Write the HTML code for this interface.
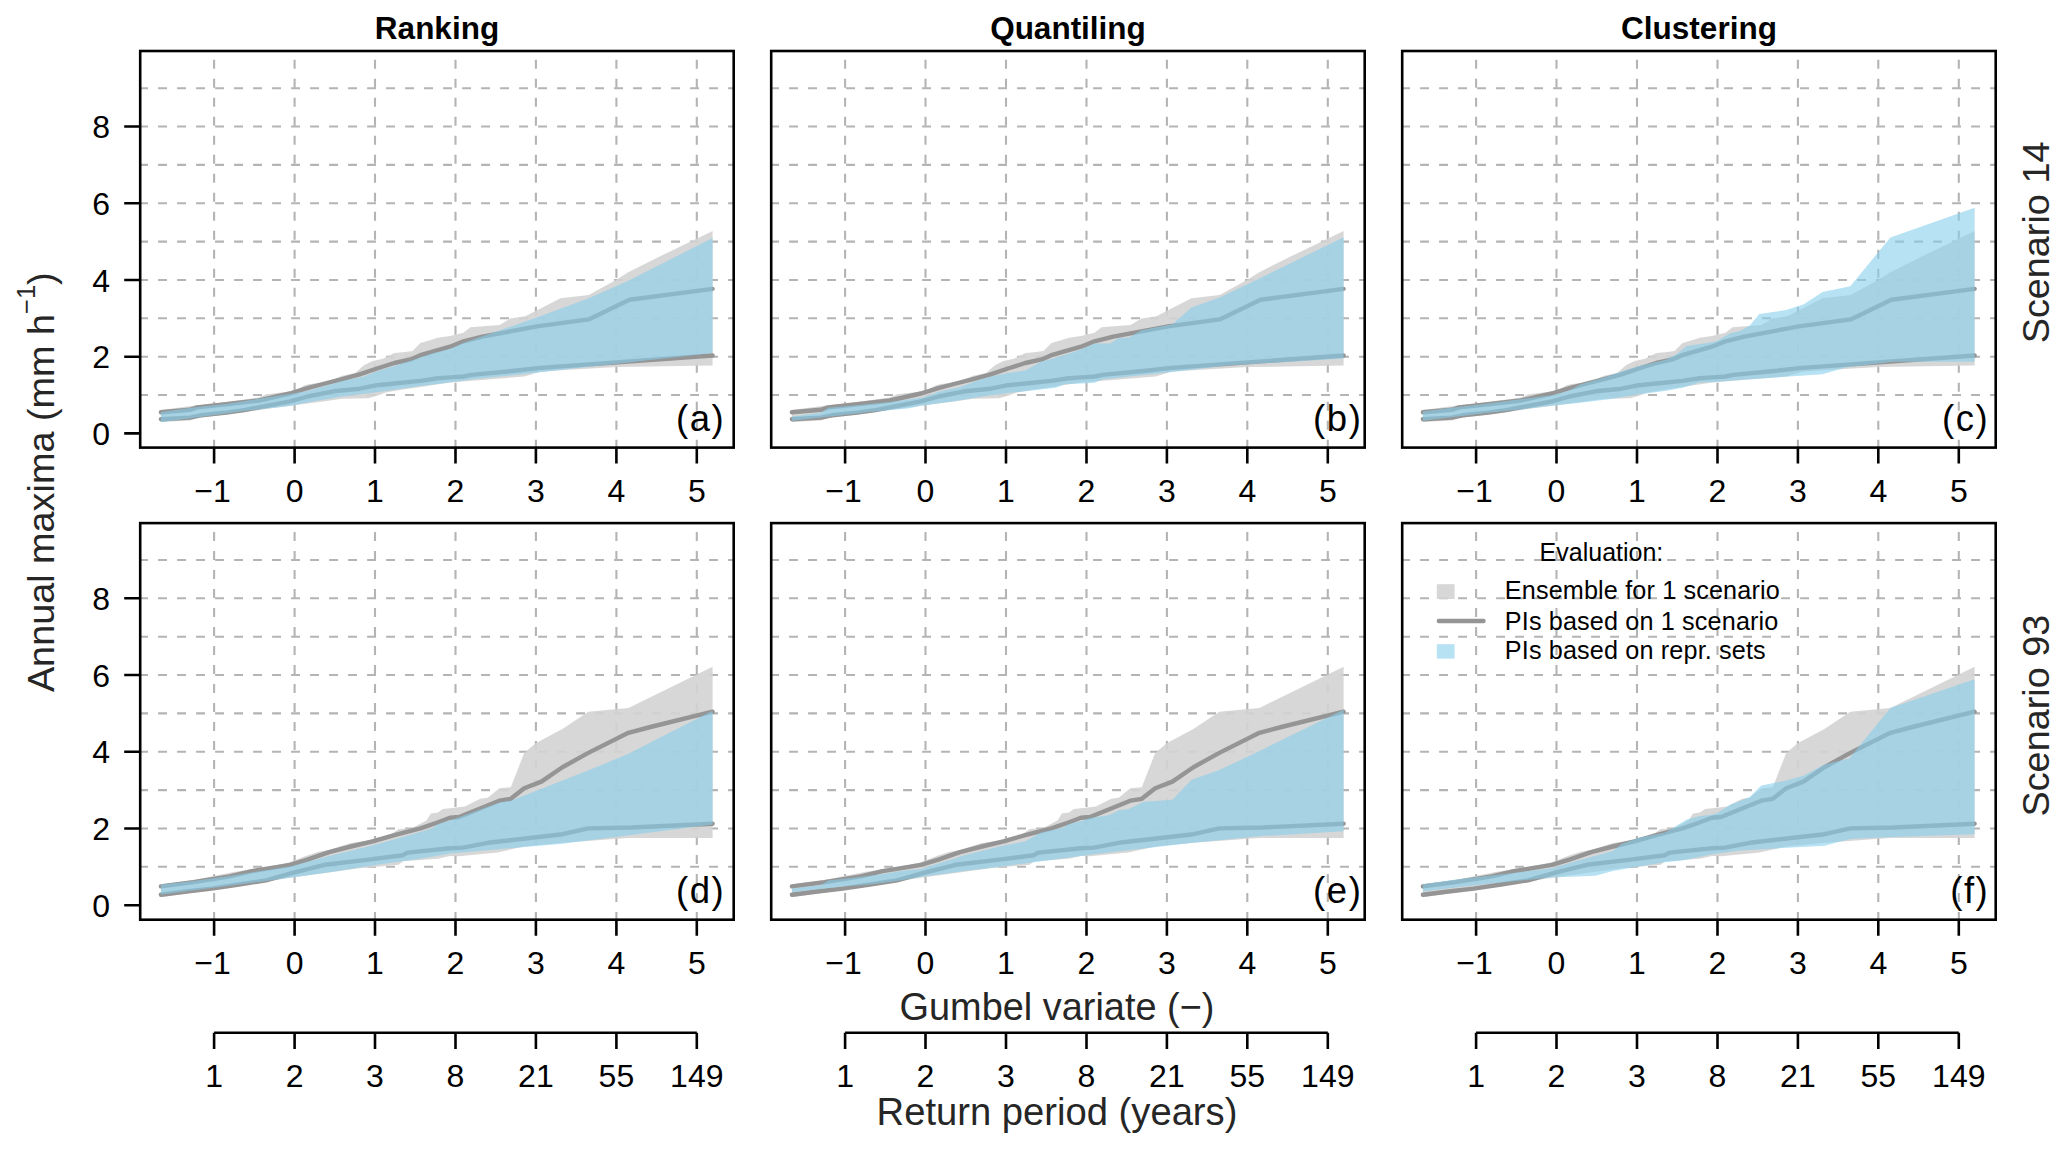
<!DOCTYPE html>
<html><head><meta charset="utf-8"><title>Figure</title>
<style>
html,body{margin:0;padding:0;background:#fff;width:2067px;height:1150px;overflow:hidden}
svg{display:block;font-family:"Liberation Sans",sans-serif}
</style></head><body>
<svg width="2067" height="1150" viewBox="0 0 2067 1150">
<rect width="2067" height="1150" fill="#fff"/>
<path d="M139.1 395H733.7M139.1 356.7H733.7M139.1 318.3H733.7M139.1 280H733.7M139.1 241.6H733.7M139.1 203.2H733.7M139.1 164.9H733.7M139.1 126.5H733.7M139.1 88.2H733.7" stroke="#b4b4b4" stroke-width="2.1" stroke-dasharray="8.9 10.1" fill="none"/>
<path d="M214.1 448.7V51M294.6 448.7V51M375 448.7V51M455.5 448.7V51M535.9 448.7V51M616.4 448.7V51M696.8 448.7V51" stroke="#b4b4b4" stroke-width="2.1" stroke-dasharray="8.9 10.1" fill="none"/>
<polygon points="160.9,409.9 197.2,405.2 226.2,401.9 258.9,397.6 266.1,394.3 287.9,391.8 298.7,388.7 304.8,385.2 310,383.9 326.5,382.2 342.2,375.7 355.2,373 363.9,365.2 372.6,360.9 383,358.7 394.3,353 403,352.2 412.6,350.9 420.4,343 430.9,340 437.8,337.8 450,336.1 463.5,332.7 470.5,327.2 499.5,324.9 510.4,318.6 525.3,316.2 560.5,298.2 588.7,295.1 616.8,279.5 627.8,272.4 666.9,252.9 712.6,231 712.6,365.5 616.8,367.1 565.2,369.9 540.2,371.8 524.5,376.5 450,382.6 420.4,387 403,389.6 385.7,392.6 377,395.7 368.3,398.3 342.2,398.7 324.8,401.3 290,405.7 226.2,414.6 197.2,417.9 189.9,420.4 160.9,421.9" fill="#d3d3d3" fill-opacity="0.9"/>
<polyline points="160.9,412.3 189.9,409.8 197.2,407.4 226.2,404.3 258.9,400.5 290,393.5 307.4,388.2 324.8,383.5 342.2,379.1 359.6,374.3 377,368.5 394.3,363 411.7,359.1 420.4,355.2 433.5,351.3 450,346.7 463.5,341.3 482.3,336.6 537,326.4 588.7,319.4 629.4,299.8 712.6,288.9" fill="none" stroke="#959595" stroke-width="4.4" stroke-linejoin="round" stroke-linecap="round"/>
<polyline points="160.9,419.2 189.9,417.6 200.8,415.3 226.2,412.6 244.3,410.1 290,401.3 307.4,396.5 333.5,391.3 359.6,388.7 377,385.2 394.3,383.5 420.4,380.9 437.8,378.3 450,377.4 463.5,376.5 471.3,374.9 512,371 540.2,367.9 712.6,355.5" fill="none" stroke="#959595" stroke-width="4.4" stroke-linejoin="round" stroke-linecap="round"/>
<polygon points="160.9,412 197.2,407 226.2,404 290,393.9 307.4,390.9 342.2,380.9 363.9,376.5 377,371.3 394.3,366.1 420.4,357.4 433.5,353 450,349.1 463.5,342.8 533.9,318.6 588.7,298.2 627.8,281 712.6,238 712.6,353 565.2,369.5 471.3,379.6 450,382.6 420.4,386.1 377,392.2 342.2,396.5 307.4,402.6 290,406.1 244.3,411 226.2,413.5 160.9,422.2" fill="#87ceeb" fill-opacity="0.6"/>
<rect x="140.2" y="51" width="593.5" height="396.6" fill="none" stroke="#000" stroke-width="2.6"/>
<text x="110" y="445" text-anchor="end" font-size="32">0</text>
<text x="110" y="368.3" text-anchor="end" font-size="32">2</text>
<text x="110" y="291.6" text-anchor="end" font-size="32">4</text>
<text x="110" y="214.8" text-anchor="end" font-size="32">6</text>
<text x="110" y="138.1" text-anchor="end" font-size="32">8</text>
<text x="212.6" y="501.8" text-anchor="middle" font-size="32">−1</text>
<text x="294.6" y="501.8" text-anchor="middle" font-size="32">0</text>
<text x="375" y="501.8" text-anchor="middle" font-size="32">1</text>
<text x="455.5" y="501.8" text-anchor="middle" font-size="32">2</text>
<text x="535.9" y="501.8" text-anchor="middle" font-size="32">3</text>
<text x="616.4" y="501.8" text-anchor="middle" font-size="32">4</text>
<text x="696.8" y="501.8" text-anchor="middle" font-size="32">5</text>
<path d="M124.2 433.4H140.2M124.2 356.7H140.2M124.2 280H140.2M124.2 203.2H140.2M124.2 126.5H140.2M214.1 447.6V463.6M294.6 447.6V463.6M375 447.6V463.6M455.5 447.6V463.6M535.9 447.6V463.6M616.4 447.6V463.6M696.8 447.6V463.6" stroke="#000" stroke-width="2.6" fill="none"/>
<text x="725.3" y="430.5" text-anchor="end" font-size="36.5" letter-spacing="1.6">(a)</text>
<text x="437" y="39.3" text-anchor="middle" font-size="31.5" font-weight="bold">Ranking</text>
<path d="M770.1 395H1364.7M770.1 356.7H1364.7M770.1 318.3H1364.7M770.1 280H1364.7M770.1 241.6H1364.7M770.1 203.2H1364.7M770.1 164.9H1364.7M770.1 126.5H1364.7M770.1 88.2H1364.7" stroke="#b4b4b4" stroke-width="2.1" stroke-dasharray="8.9 10.1" fill="none"/>
<path d="M845.1 448.7V51M925.5 448.7V51M1006 448.7V51M1086.5 448.7V51M1166.9 448.7V51M1247.3 448.7V51M1327.8 448.7V51" stroke="#b4b4b4" stroke-width="2.1" stroke-dasharray="8.9 10.1" fill="none"/>
<polygon points="791.9,409.9 828.2,405.2 857.2,401.9 889.9,397.6 897.1,394.3 918.9,391.8 929.7,388.7 935.8,385.2 941,383.9 957.5,382.2 973.2,375.7 986.2,373 994.9,365.2 1003.6,360.9 1014,358.7 1025.3,353 1034,352.2 1043.6,350.9 1051.4,343 1061.9,340 1068.8,337.8 1081,336.1 1094.5,332.7 1101.5,327.2 1130.5,324.9 1141.4,318.6 1156.3,316.2 1191.5,298.2 1219.7,295.1 1247.8,279.5 1258.8,272.4 1297.9,252.9 1343.6,231 1343.6,365.5 1247.8,367.1 1196.2,369.9 1171.2,371.8 1155.5,376.5 1081,382.6 1051.4,387 1034,389.6 1016.7,392.6 1008,395.7 999.3,398.3 973.2,398.7 955.8,401.3 921,405.7 857.2,414.6 828.2,417.9 820.9,420.4 791.9,421.9" fill="#d3d3d3" fill-opacity="0.9"/>
<polyline points="791.9,412.3 820.9,409.8 828.2,407.4 857.2,404.3 889.9,400.5 921,393.5 938.4,388.2 955.8,383.5 973.2,379.1 990.6,374.3 1008,368.5 1025.3,363 1042.7,359.1 1051.4,355.2 1064.5,351.3 1081,346.7 1094.5,341.3 1113.3,336.6 1168,326.4 1219.7,319.4 1260.4,299.8 1343.6,288.9" fill="none" stroke="#959595" stroke-width="4.4" stroke-linejoin="round" stroke-linecap="round"/>
<polyline points="791.9,419.2 820.9,417.6 831.8,415.3 857.2,412.6 875.3,410.1 921,401.3 938.4,396.5 964.5,391.3 990.6,388.7 1008,385.2 1025.3,383.5 1051.4,380.9 1068.8,378.3 1081,377.4 1094.5,376.5 1102.3,374.9 1143,371 1171.2,367.9 1343.6,355.5" fill="none" stroke="#959595" stroke-width="4.4" stroke-linejoin="round" stroke-linecap="round"/>
<polygon points="791.9,416.4 820.9,412.8 828.2,407.7 853.6,405.6 889.9,401.9 922.5,397.5 940.1,391.3 960.1,387 981.9,379.1 994.9,375.7 1008,373 1025.3,370.4 1041,361.7 1060.1,356.5 1081,349.6 1094.5,343.6 1110.1,343.6 1118,338.2 1128.9,337.4 1141.4,330.3 1172.7,324.1 1191.5,307.6 1219.7,297.5 1258.8,278.7 1343.6,237.2 1343.6,358.5 1227.5,365.5 1180.5,371 1102.3,379.6 1094.5,382.8 1081,383.5 1064.5,384.3 1055.8,387.8 1025.3,391.3 1008,393 981.9,396.5 955.8,400.9 921,405.7 908,408.5 868.1,412.1 857.2,413.5 791.9,420.8" fill="#87ceeb" fill-opacity="0.6"/>
<rect x="771.2" y="51" width="593.5" height="396.6" fill="none" stroke="#000" stroke-width="2.6"/>
<text x="843.6" y="501.8" text-anchor="middle" font-size="32">−1</text>
<text x="925.5" y="501.8" text-anchor="middle" font-size="32">0</text>
<text x="1006" y="501.8" text-anchor="middle" font-size="32">1</text>
<text x="1086.5" y="501.8" text-anchor="middle" font-size="32">2</text>
<text x="1166.9" y="501.8" text-anchor="middle" font-size="32">3</text>
<text x="1247.3" y="501.8" text-anchor="middle" font-size="32">4</text>
<text x="1327.8" y="501.8" text-anchor="middle" font-size="32">5</text>
<path d="M845.1 447.6V463.6M925.5 447.6V463.6M1006 447.6V463.6M1086.5 447.6V463.6M1166.9 447.6V463.6M1247.3 447.6V463.6M1327.8 447.6V463.6" stroke="#000" stroke-width="2.6" fill="none"/>
<text x="1362.5" y="430.5" text-anchor="end" font-size="36.5" letter-spacing="1.6">(b)</text>
<text x="1068" y="39.3" text-anchor="middle" font-size="31.5" font-weight="bold">Quantiling</text>
<path d="M1401.1 395H1995.7M1401.1 356.7H1995.7M1401.1 318.3H1995.7M1401.1 280H1995.7M1401.1 241.6H1995.7M1401.1 203.2H1995.7M1401.1 164.9H1995.7M1401.1 126.5H1995.7M1401.1 88.2H1995.7" stroke="#b4b4b4" stroke-width="2.1" stroke-dasharray="8.9 10.1" fill="none"/>
<path d="M1476.1 448.7V51M1556.5 448.7V51M1637 448.7V51M1717.5 448.7V51M1797.9 448.7V51M1878.3 448.7V51M1958.8 448.7V51" stroke="#b4b4b4" stroke-width="2.1" stroke-dasharray="8.9 10.1" fill="none"/>
<polygon points="1422.9,409.9 1459.2,405.2 1488.2,401.9 1520.9,397.6 1528.1,394.3 1549.9,391.8 1560.7,388.7 1566.8,385.2 1572,383.9 1588.5,382.2 1604.2,375.7 1617.2,373 1625.9,365.2 1634.6,360.9 1645,358.7 1656.3,353 1665,352.2 1674.6,350.9 1682.4,343 1692.9,340 1699.8,337.8 1712,336.1 1725.5,332.7 1732.5,327.2 1761.5,324.9 1772.4,318.6 1787.3,316.2 1822.5,298.2 1850.7,295.1 1878.8,279.5 1889.8,272.4 1928.9,252.9 1974.6,231 1974.6,365.5 1878.8,367.1 1827.2,369.9 1802.2,371.8 1786.5,376.5 1712,382.6 1682.4,387 1665,389.6 1647.7,392.6 1639,395.7 1630.3,398.3 1604.2,398.7 1586.8,401.3 1552,405.7 1488.2,414.6 1459.2,417.9 1451.9,420.4 1422.9,421.9" fill="#d3d3d3" fill-opacity="0.9"/>
<polyline points="1422.9,412.3 1451.9,409.8 1459.2,407.4 1488.2,404.3 1520.9,400.5 1552,393.5 1569.4,388.2 1586.8,383.5 1604.2,379.1 1621.6,374.3 1639,368.5 1656.3,363 1673.7,359.1 1682.4,355.2 1695.5,351.3 1712,346.7 1725.5,341.3 1744.3,336.6 1799,326.4 1850.7,319.4 1891.4,299.8 1974.6,288.9" fill="none" stroke="#959595" stroke-width="4.4" stroke-linejoin="round" stroke-linecap="round"/>
<polyline points="1422.9,419.2 1451.9,417.6 1462.8,415.3 1488.2,412.6 1506.3,410.1 1552,401.3 1569.4,396.5 1595.5,391.3 1621.6,388.7 1639,385.2 1656.3,383.5 1682.4,380.9 1699.8,378.3 1712,377.4 1725.5,376.5 1733.3,374.9 1774,371 1802.2,367.9 1974.6,355.5" fill="none" stroke="#959595" stroke-width="4.4" stroke-linejoin="round" stroke-linecap="round"/>
<polygon points="1422.9,411.4 1451.9,407.7 1488.2,403.4 1528.1,398.3 1552,395.2 1569.4,390.5 1580.7,384.3 1604.2,377.6 1621.6,371.5 1639,366.1 1665,360 1675.5,354.8 1686.8,346.1 1712,342.2 1717.3,340.7 1730.7,333 1740.3,331.1 1749.8,325.4 1759.4,313.9 1786.2,310.1 1803.4,304.4 1822.5,291.9 1850.3,286.2 1890.4,237.4 1974.6,207.7 1974.6,361.7 1893.3,361.7 1845.5,367.5 1822.5,374.2 1740.3,379.9 1712,382.2 1699.8,382.6 1682.4,387.8 1665,390.9 1639,394.3 1612.9,398.7 1578.1,403 1552,405.7 1520.9,409.5 1488.2,412.8 1422.9,420.8" fill="#87ceeb" fill-opacity="0.6"/>
<rect x="1402.2" y="51" width="593.5" height="396.6" fill="none" stroke="#000" stroke-width="2.6"/>
<text x="1474.6" y="501.8" text-anchor="middle" font-size="32">−1</text>
<text x="1556.5" y="501.8" text-anchor="middle" font-size="32">0</text>
<text x="1637" y="501.8" text-anchor="middle" font-size="32">1</text>
<text x="1717.5" y="501.8" text-anchor="middle" font-size="32">2</text>
<text x="1797.9" y="501.8" text-anchor="middle" font-size="32">3</text>
<text x="1878.3" y="501.8" text-anchor="middle" font-size="32">4</text>
<text x="1958.8" y="501.8" text-anchor="middle" font-size="32">5</text>
<path d="M1476.1 447.6V463.6M1556.5 447.6V463.6M1637 447.6V463.6M1717.5 447.6V463.6M1797.9 447.6V463.6M1878.3 447.6V463.6M1958.8 447.6V463.6" stroke="#000" stroke-width="2.6" fill="none"/>
<text x="1989.4" y="430.5" text-anchor="end" font-size="36.5" letter-spacing="1.6">(c)</text>
<text x="1699" y="39.3" text-anchor="middle" font-size="31.5" font-weight="bold">Clustering</text>
<path d="M139.1 866.8H733.7M139.1 828.5H733.7M139.1 790.1H733.7M139.1 751.8H733.7M139.1 713.4H733.7M139.1 675H733.7M139.1 636.7H733.7M139.1 598.3H733.7M139.1 560H733.7" stroke="#b4b4b4" stroke-width="2.1" stroke-dasharray="8.9 10.1" fill="none"/>
<path d="M214.1 920.9V523.1M294.6 920.9V523.1M375 920.9V523.1M455.5 920.9V523.1M535.9 920.9V523.1M616.4 920.9V523.1M696.8 920.9V523.1" stroke="#b4b4b4" stroke-width="2.1" stroke-dasharray="8.9 10.1" fill="none"/>
<polygon points="160.9,884.3 193.5,880 233.5,871.9 273.4,866.1 290,862.2 305.7,856.1 318.7,851.7 329.1,850 350.9,843 368.3,840.4 377,837.8 390,835.2 398.7,829.1 411.7,828.3 426.5,820.4 430.9,813.5 437.8,812.6 443,809.1 450,808.3 464.9,806.4 480.2,798.8 487.8,797.8 499.3,788.3 510.8,787.3 524.2,752.9 535.7,743.3 562.4,729 588.3,711.7 628.4,707.9 712.6,666.8 712.6,838 628.4,838 562.4,842.8 524.2,846.6 497.4,852.4 459.1,856.2 450,856.1 437.8,858.7 403,861.3 398.7,864.8 359.6,868.3 290,877.8 211.7,890.1 160.9,897.3" fill="#d3d3d3" fill-opacity="0.9"/>
<polyline points="160.9,886.4 193.5,882.1 229.8,876.3 251.6,871.2 273.4,867.6 290,864.8 307.4,859.6 329.1,852.2 350.9,846.5 372.6,841.3 394.3,835.2 420.4,828.3 436.1,823 450,817.8 459.1,817 499.3,800.7 510.8,798.8 524.2,788.3 541.4,781.6 562.4,767.2 588.3,752.9 628.4,732.8 650.4,727 712.6,711.7" fill="none" stroke="#959595" stroke-width="4.4" stroke-linejoin="round" stroke-linecap="round"/>
<polyline points="160.9,894.8 186.3,891.5 211.7,888.6 240.7,884.3 266.1,880.3 294.4,872.3 324.8,864.8 368.3,859.6 403,855.2 407.4,852.6 450,848.3 463,847.6 487.8,842.8 562.4,834.2 588.3,828.4 631.3,827.5 712.6,823.7" fill="none" stroke="#959595" stroke-width="4.4" stroke-linejoin="round" stroke-linecap="round"/>
<polygon points="160.9,884.6 193.5,881 229.8,875.9 290,866.5 329.1,856.1 368.3,846.5 403,837 432.6,828.3 437.8,823.9 450,820.4 499.3,802.6 510.8,800.7 535.7,791.1 589.2,770.1 628.4,753.8 712.6,710.8 712.6,824.6 631.3,835.1 562.4,843.7 450,853.5 420.4,858.7 377,864.8 333.5,871.7 290,877.8 262.5,881.4 160.9,894.4" fill="#87ceeb" fill-opacity="0.6"/>
<rect x="140.2" y="523.1" width="593.5" height="396.6" fill="none" stroke="#000" stroke-width="2.6"/>
<text x="110" y="916.8" text-anchor="end" font-size="32">0</text>
<text x="110" y="840.1" text-anchor="end" font-size="32">2</text>
<text x="110" y="763.4" text-anchor="end" font-size="32">4</text>
<text x="110" y="686.6" text-anchor="end" font-size="32">6</text>
<text x="110" y="609.9" text-anchor="end" font-size="32">8</text>
<text x="212.6" y="973.6" text-anchor="middle" font-size="32">−1</text>
<text x="294.6" y="973.6" text-anchor="middle" font-size="32">0</text>
<text x="375" y="973.6" text-anchor="middle" font-size="32">1</text>
<text x="455.5" y="973.6" text-anchor="middle" font-size="32">2</text>
<text x="535.9" y="973.6" text-anchor="middle" font-size="32">3</text>
<text x="616.4" y="973.6" text-anchor="middle" font-size="32">4</text>
<text x="696.8" y="973.6" text-anchor="middle" font-size="32">5</text>
<path d="M124.2 905.2H140.2M124.2 828.5H140.2M124.2 751.8H140.2M124.2 675H140.2M124.2 598.3H140.2M214.1 919.8V935.8M294.6 919.8V935.8M375 919.8V935.8M455.5 919.8V935.8M535.9 919.8V935.8M616.4 919.8V935.8M696.8 919.8V935.8" stroke="#000" stroke-width="2.6" fill="none"/>
<text x="725.3" y="903" text-anchor="end" font-size="36.5" letter-spacing="1.6">(d)</text>
<path d="M770.1 866.8H1364.7M770.1 828.5H1364.7M770.1 790.1H1364.7M770.1 751.8H1364.7M770.1 713.4H1364.7M770.1 675H1364.7M770.1 636.7H1364.7M770.1 598.3H1364.7M770.1 560H1364.7" stroke="#b4b4b4" stroke-width="2.1" stroke-dasharray="8.9 10.1" fill="none"/>
<path d="M845.1 920.9V523.1M925.5 920.9V523.1M1006 920.9V523.1M1086.5 920.9V523.1M1166.9 920.9V523.1M1247.3 920.9V523.1M1327.8 920.9V523.1" stroke="#b4b4b4" stroke-width="2.1" stroke-dasharray="8.9 10.1" fill="none"/>
<polygon points="791.9,884.3 824.5,880 864.5,871.9 904.4,866.1 921,862.2 936.7,856.1 949.7,851.7 960.1,850 981.9,843 999.3,840.4 1008,837.8 1021,835.2 1029.7,829.1 1042.7,828.3 1057.5,820.4 1061.9,813.5 1068.8,812.6 1074,809.1 1081,808.3 1095.9,806.4 1111.2,798.8 1118.8,797.8 1130.3,788.3 1141.8,787.3 1155.2,752.9 1166.7,743.3 1193.4,729 1219.3,711.7 1259.4,707.9 1343.6,666.8 1343.6,838 1259.4,838 1193.4,842.8 1155.2,846.6 1128.4,852.4 1090.1,856.2 1081,856.1 1068.8,858.7 1034,861.3 1029.7,864.8 990.6,868.3 921,877.8 842.7,890.1 791.9,897.3" fill="#d3d3d3" fill-opacity="0.9"/>
<polyline points="791.9,886.4 824.5,882.1 860.8,876.3 882.6,871.2 904.4,867.6 921,864.8 938.4,859.6 960.1,852.2 981.9,846.5 1003.6,841.3 1025.3,835.2 1051.4,828.3 1067.1,823 1081,817.8 1090.1,817 1130.3,800.7 1141.8,798.8 1155.2,788.3 1172.4,781.6 1193.4,767.2 1219.3,752.9 1259.4,732.8 1281.4,727 1343.6,711.7" fill="none" stroke="#959595" stroke-width="4.4" stroke-linejoin="round" stroke-linecap="round"/>
<polyline points="791.9,894.8 817.3,891.5 842.7,888.6 871.7,884.3 897.1,880.3 925.4,872.3 955.8,864.8 999.3,859.6 1034,855.2 1038.4,852.6 1081,848.3 1094,847.6 1118.8,842.8 1193.4,834.2 1219.3,828.4 1262.3,827.5 1343.6,823.7" fill="none" stroke="#959595" stroke-width="4.4" stroke-linejoin="round" stroke-linecap="round"/>
<polygon points="791.9,888.6 820.9,885 828.2,880.6 853.6,877.7 882.6,874.1 904.4,870.5 921,869.1 934,864.8 951.4,859.6 964.5,855.2 999.3,846.5 1025.3,841.3 1041,832.6 1063.6,827.4 1068.8,823.9 1081,821.3 1090.1,817.9 1109.3,815 1118.8,810.3 1128.4,809.3 1143.7,801.7 1172.4,799.7 1191.5,779.7 1219.3,770.1 1259.4,751 1343.6,709.8 1343.6,831.3 1262.3,836.1 1193.4,842.8 1094,854.3 1081,856.1 1060.1,858.7 1034,862.2 1008,865.7 964.5,870.9 921,877 897.1,881 871.7,884.3 842.7,886.4 791.9,892.2" fill="#87ceeb" fill-opacity="0.6"/>
<rect x="771.2" y="523.1" width="593.5" height="396.6" fill="none" stroke="#000" stroke-width="2.6"/>
<text x="843.6" y="973.6" text-anchor="middle" font-size="32">−1</text>
<text x="925.5" y="973.6" text-anchor="middle" font-size="32">0</text>
<text x="1006" y="973.6" text-anchor="middle" font-size="32">1</text>
<text x="1086.5" y="973.6" text-anchor="middle" font-size="32">2</text>
<text x="1166.9" y="973.6" text-anchor="middle" font-size="32">3</text>
<text x="1247.3" y="973.6" text-anchor="middle" font-size="32">4</text>
<text x="1327.8" y="973.6" text-anchor="middle" font-size="32">5</text>
<path d="M845.1 919.8V935.8M925.5 919.8V935.8M1006 919.8V935.8M1086.5 919.8V935.8M1166.9 919.8V935.8M1247.3 919.8V935.8M1327.8 919.8V935.8" stroke="#000" stroke-width="2.6" fill="none"/>
<text x="1362.5" y="903" text-anchor="end" font-size="36.5" letter-spacing="1.6">(e)</text>
<path d="M1401.1 866.8H1995.7M1401.1 828.5H1995.7M1401.1 790.1H1995.7M1401.1 751.8H1995.7M1401.1 713.4H1995.7M1401.1 675H1995.7M1401.1 636.7H1995.7M1401.1 598.3H1995.7M1401.1 560H1995.7" stroke="#b4b4b4" stroke-width="2.1" stroke-dasharray="8.9 10.1" fill="none"/>
<path d="M1476.1 920.9V523.1M1556.5 920.9V523.1M1637 920.9V523.1M1717.5 920.9V523.1M1797.9 920.9V523.1M1878.3 920.9V523.1M1958.8 920.9V523.1" stroke="#b4b4b4" stroke-width="2.1" stroke-dasharray="8.9 10.1" fill="none"/>
<polygon points="1422.9,884.3 1455.5,880 1495.5,871.9 1535.4,866.1 1552,862.2 1567.7,856.1 1580.7,851.7 1591.1,850 1612.9,843 1630.3,840.4 1639,837.8 1652,835.2 1660.7,829.1 1673.7,828.3 1688.5,820.4 1692.9,813.5 1699.8,812.6 1705,809.1 1712,808.3 1726.9,806.4 1742.2,798.8 1749.8,797.8 1761.3,788.3 1772.8,787.3 1786.2,752.9 1797.7,743.3 1824.4,729 1850.3,711.7 1890.4,707.9 1974.6,666.8 1974.6,838 1890.4,838 1824.4,842.8 1786.2,846.6 1759.4,852.4 1721.1,856.2 1712,856.1 1699.8,858.7 1665,861.3 1660.7,864.8 1621.6,868.3 1552,877.8 1473.7,890.1 1422.9,897.3" fill="#d3d3d3" fill-opacity="0.9"/>
<polyline points="1422.9,886.4 1455.5,882.1 1491.8,876.3 1513.6,871.2 1535.4,867.6 1552,864.8 1569.4,859.6 1591.1,852.2 1612.9,846.5 1634.6,841.3 1656.3,835.2 1682.4,828.3 1698.1,823 1712,817.8 1721.1,817 1761.3,800.7 1772.8,798.8 1786.2,788.3 1803.4,781.6 1824.4,767.2 1850.3,752.9 1890.4,732.8 1912.4,727 1974.6,711.7" fill="none" stroke="#959595" stroke-width="4.4" stroke-linejoin="round" stroke-linecap="round"/>
<polyline points="1422.9,894.8 1448.3,891.5 1473.7,888.6 1502.7,884.3 1528.1,880.3 1556.4,872.3 1586.8,864.8 1630.3,859.6 1665,855.2 1669.4,852.6 1712,848.3 1725,847.6 1749.8,842.8 1824.4,834.2 1850.3,828.4 1893.3,827.5 1974.6,823.7" fill="none" stroke="#959595" stroke-width="4.4" stroke-linejoin="round" stroke-linecap="round"/>
<polygon points="1422.9,884.3 1455.5,879.5 1491.8,875.6 1520.9,871.9 1552,868.3 1578.1,860.4 1612.9,850.9 1621.6,843.9 1639,837.8 1665,832.6 1673.7,827.4 1686.8,819.6 1699.8,816.1 1712,814.8 1717.3,813.1 1730.7,804.5 1749.8,796.9 1761.3,785.4 1786.2,780.6 1803.4,775.8 1824.4,764.4 1849.3,758.6 1860.8,744.3 1890.4,707.9 1974.6,679.2 1974.6,834.2 1893.3,837.1 1850.3,839 1824.4,845.7 1740.3,850.4 1712,854.3 1682.4,860.4 1665,862.2 1639,866.5 1612.9,870.9 1595.5,875.7 1552,877.4 1520.9,880.6 1491.8,883.5 1462.8,886.8 1422.9,891.5" fill="#87ceeb" fill-opacity="0.6"/>
<rect x="1402.2" y="523.1" width="593.5" height="396.6" fill="none" stroke="#000" stroke-width="2.6"/>
<text x="1474.6" y="973.6" text-anchor="middle" font-size="32">−1</text>
<text x="1556.5" y="973.6" text-anchor="middle" font-size="32">0</text>
<text x="1637" y="973.6" text-anchor="middle" font-size="32">1</text>
<text x="1717.5" y="973.6" text-anchor="middle" font-size="32">2</text>
<text x="1797.9" y="973.6" text-anchor="middle" font-size="32">3</text>
<text x="1878.3" y="973.6" text-anchor="middle" font-size="32">4</text>
<text x="1958.8" y="973.6" text-anchor="middle" font-size="32">5</text>
<path d="M1476.1 919.8V935.8M1556.5 919.8V935.8M1637 919.8V935.8M1717.5 919.8V935.8M1797.9 919.8V935.8M1878.3 919.8V935.8M1958.8 919.8V935.8" stroke="#000" stroke-width="2.6" fill="none"/>
<text x="1989.4" y="903" text-anchor="end" font-size="36.5" letter-spacing="1.6">(f)</text>
<path d="M214.1 1032.8H696.8M214.1 1032.8V1049M294.6 1032.8V1049M375 1032.8V1049M455.5 1032.8V1049M535.9 1032.8V1049M616.4 1032.8V1049M696.8 1032.8V1049" stroke="#000" stroke-width="2.6" fill="none"/>
<text x="214.1" y="1087" text-anchor="middle" font-size="32">1</text>
<text x="294.6" y="1087" text-anchor="middle" font-size="32">2</text>
<text x="375" y="1087" text-anchor="middle" font-size="32">3</text>
<text x="455.5" y="1087" text-anchor="middle" font-size="32">8</text>
<text x="535.9" y="1087" text-anchor="middle" font-size="32">21</text>
<text x="616.4" y="1087" text-anchor="middle" font-size="32">55</text>
<text x="696.8" y="1087" text-anchor="middle" font-size="32">149</text>
<path d="M845.1 1032.8H1327.8M845.1 1032.8V1049M925.5 1032.8V1049M1006 1032.8V1049M1086.5 1032.8V1049M1166.9 1032.8V1049M1247.3 1032.8V1049M1327.8 1032.8V1049" stroke="#000" stroke-width="2.6" fill="none"/>
<text x="845.1" y="1087" text-anchor="middle" font-size="32">1</text>
<text x="925.5" y="1087" text-anchor="middle" font-size="32">2</text>
<text x="1006" y="1087" text-anchor="middle" font-size="32">3</text>
<text x="1086.5" y="1087" text-anchor="middle" font-size="32">8</text>
<text x="1166.9" y="1087" text-anchor="middle" font-size="32">21</text>
<text x="1247.3" y="1087" text-anchor="middle" font-size="32">55</text>
<text x="1327.8" y="1087" text-anchor="middle" font-size="32">149</text>
<path d="M1476.1 1032.8H1958.8M1476.1 1032.8V1049M1556.5 1032.8V1049M1637 1032.8V1049M1717.5 1032.8V1049M1797.9 1032.8V1049M1878.3 1032.8V1049M1958.8 1032.8V1049" stroke="#000" stroke-width="2.6" fill="none"/>
<text x="1476.1" y="1087" text-anchor="middle" font-size="32">1</text>
<text x="1556.5" y="1087" text-anchor="middle" font-size="32">2</text>
<text x="1637" y="1087" text-anchor="middle" font-size="32">3</text>
<text x="1717.5" y="1087" text-anchor="middle" font-size="32">8</text>
<text x="1797.9" y="1087" text-anchor="middle" font-size="32">21</text>
<text x="1878.3" y="1087" text-anchor="middle" font-size="32">55</text>
<text x="1958.8" y="1087" text-anchor="middle" font-size="32">149</text>
<text x="1057" y="1019.7" text-anchor="middle" font-size="37.9" fill="#262626">Gumbel variate (−)</text>
<text x="1057" y="1124.5" text-anchor="middle" font-size="38.2" fill="#262626">Return period (years)</text>
<text transform="translate(53.8 692.1) rotate(-90)" x="0" y="0" font-size="37.8" fill="#262626">Annual maxima (mm h<tspan font-size="25.5" dy="-18.8">−1</tspan><tspan dy="18.8">)</tspan></text>
<text transform="translate(2049.1 343.3) rotate(-90)" x="0" y="0" font-size="37.8" fill="#262626">Scenario 14</text>
<text transform="translate(2049.1 816.5) rotate(-90)" x="0" y="0" font-size="37.8" fill="#262626">Scenario 93</text>
<text x="1539.6" y="561" font-size="25">Evaluation:</text>
<rect x="1436.8" y="584.2" width="17.8" height="14.8" fill="#d3d3d3" fill-opacity="0.9"/>
<path d="M1438.8 621H1483.5" stroke="#959595" stroke-width="4.4" stroke-linecap="round"/>
<rect x="1436.8" y="644.2" width="17.8" height="14.4" fill="#87ceeb" fill-opacity="0.6"/>
<text x="1504.8" y="599.3" font-size="25.2" letter-spacing="0.15">Ensemble for 1 scenario</text>
<text x="1504.8" y="629.9" font-size="25.2" letter-spacing="0.15">PIs based on 1 scenario</text>
<text x="1504.8" y="659" font-size="25.2" letter-spacing="0.15">PIs based on repr. sets</text>
</svg>
</body></html>
